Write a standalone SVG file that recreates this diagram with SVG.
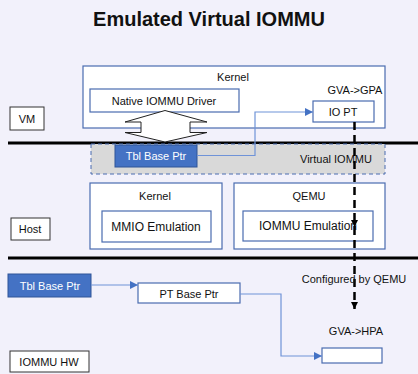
<svg xmlns="http://www.w3.org/2000/svg" width="418" height="374" viewBox="0 0 418 374">
<defs>
<style>
.t{font-family:"Liberation Sans",Arial,sans-serif;font-size:11px;fill:#111;text-anchor:middle;dominant-baseline:central}
.tw{fill:#fff}
.box{fill:#fff;stroke:#4a6cb0;stroke-width:1.2}
.lab{fill:#fff;stroke:#333;stroke-width:1}
.blue{fill:#4472c4;stroke:#2f5597;stroke-width:1}
.sep{stroke:#000;stroke-width:3}
.conn{fill:none;stroke:#6f93d8;stroke-width:1.2}
.dash{fill:none;stroke:#000;stroke-width:2.5;stroke-dasharray:8 5}
</style>
<marker id="ab" viewBox="0 0 10 10" refX="10" refY="5" markerWidth="8" markerHeight="8" markerUnits="userSpaceOnUse" orient="auto">
<path d="M0,0 L10,5 L0,10 z" fill="#4472c4"/>
</marker>
<marker id="ak" viewBox="0 0 10 10" refX="10" refY="5" markerWidth="7" markerHeight="7" markerUnits="userSpaceOnUse" orient="auto">
<path d="M0,0 L10,5 L0,10 z" fill="#000"/>
</marker>
</defs>
<rect width="418" height="374" fill="#f2f1fb"/>
<text x="209" y="19" class="t" style="font-size:20px;font-weight:bold">Emulated Virtual IOMMU</text>

<g id="vm-kernel">
<rect class="box" x="83" y="66" width="302" height="62"/>
<text class="t" x="233" y="77">Kernel</text>
</g>
<g id="native-driver">
<rect class="box" x="90" y="89" width="149" height="23"/>
<text class="t" x="164" y="100.5">Native IOMMU Driver</text>
</g>
<g id="io-pt">
<text class="t" x="355" y="90">GVA-&gt;GPA</text>
<rect class="box" x="313" y="101" width="61" height="21"/>
<text class="t" x="343" y="111.5">IO PT</text>
</g>
<g id="vm-label">
<rect class="lab" x="10" y="107" width="34" height="23"/>
<text class="t" x="27" y="118.5">VM</text>
</g>

<g id="separators">
<line class="sep" x1="8" y1="143" x2="418" y2="143"/>
<line class="sep" x1="8" y1="258" x2="418" y2="258"/>
</g>

<g id="virtual-iommu">
<rect x="91" y="144" width="294" height="30" fill="#d9d9d9" stroke="#4a6cb0" stroke-width="1" stroke-dasharray="4 3"/>
<text class="t" x="336" y="159">Virtual IOMMU</text>
</g>
<g id="vm-tbl-base-ptr">
<rect class="blue" x="115" y="145" width="82" height="22"/>
<text class="t tw" x="156" y="156">Tbl Base Ptr</text>
</g>

<g id="double-arrow">
<path d="M165,110.5 L207,122 L190,122 L190,132.5 L207,132.5 L165,142 L125,132.5 L141,132.5 L141,122 L125,122 Z" fill="#fff" stroke="#222" stroke-width="1"/>
</g>

<g id="host-kernel">
<rect class="box" x="90" y="183" width="132" height="66"/>
<text class="t" x="155" y="196">Kernel</text>
</g>
<g id="mmio-emulation">
<rect class="box" x="102" y="211" width="109" height="31"/>
<text class="t" x="156" y="227" style="font-size:12px">MMIO Emulation</text>
</g>
<g id="qemu">
<rect class="box" x="234" y="183" width="151" height="66"/>
<text class="t" x="309" y="196">QEMU</text>
</g>
<g id="iommu-emulation">
<rect class="box" x="243" y="211" width="130" height="30"/>
<text class="t" x="308" y="226" style="font-size:12px">IOMMU Emulation</text>
</g>
<g id="host-label">
<rect class="lab" x="11" y="218" width="39" height="22"/>
<text class="t" x="30" y="229">Host</text>
</g>

<g id="hw-tbl-base-ptr">
<rect class="blue" x="8" y="274" width="83" height="23"/>
<text class="t tw" x="50" y="285.5">Tbl Base Ptr</text>
</g>
<g id="pt-base-ptr">
<rect class="box" x="138" y="283" width="102" height="20"/>
<text class="t" x="189" y="293.5">PT Base Ptr</text>
</g>
<g id="hw-pt">
<text class="t" x="356" y="331">GVA-&gt;HPA</text>
<rect class="box" x="322" y="348" width="60" height="15"/>
</g>
<g id="iommu-hw-label">
<rect class="lab" x="10" y="351" width="79" height="21"/>
<text class="t" x="49" y="361.5">IOMMU HW</text>
</g>

<g id="connectors">
<path class="conn" d="M197,155.5 H255 V112 H313" marker-end="url(#ab)"/>
<path class="conn" d="M91,285 H138" marker-end="url(#ab)"/>
<path class="conn" d="M240,294 H281 V356 H322" marker-end="url(#ab)"/>
<path class="dash" d="M354.5,122 V227" marker-end="url(#ak)"/>
<path class="dash" d="M354.5,227 V309" marker-end="url(#ak)"/>
<text class="t" x="354" y="279">Configured by QEMU</text>
</g>
</svg>
